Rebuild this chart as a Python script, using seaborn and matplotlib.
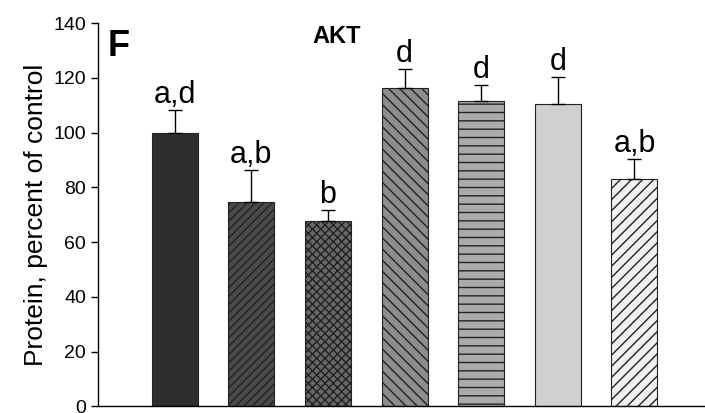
import pandas as pd
import seaborn as sns
import matplotlib.pyplot as plt

# values (percent of control)
groups = ["G1", "G2", "G3", "G4", "G5", "G6", "G7"]
means = [100.0, 74.7, 67.8, 116.3, 111.6, 110.3, 83.0]
errors = [8.2, 11.8, 4.1, 7.0, 5.8, 10.0, 7.3]
letters = ["a,d", "a,b", "b", "d", "d", "d", "a,b"]
colors = ["#2e2e2e", "#4a4a4a", "#676767", "#8d8d8d", "#ababab", "#d0d0d0", "#f0f0f0"]
hatches = ["", "////", "xxxx", "\\\\\\", "--", "", "///"]

df = pd.DataFrame({"group": groups, "value": means})

sns.set_style("ticks")
plt.rcParams["font.family"] = ["Liberation Sans", "DejaVu Sans"]
plt.rcParams["hatch.linewidth"] = 1.0
for key in ["text.color", "axes.labelcolor", "xtick.color", "ytick.color"]:
    plt.rcParams[key] = "black"

fig = plt.figure(figsize=(7.05, 4.13), dpi=100)
ax = fig.add_axes([0.139, 0.016, 0.861, 0.928])

sns.barplot(data=df, x="group", y="value", hue="group", palette=colors,
            width=0.6, errorbar=None, legend=False, ax=ax,
            edgecolor="#222222", linewidth=0.8)

for patch, h in zip(ax.patches, hatches):
    patch.set_hatch(h)

x = list(range(len(groups)))
ax.errorbar(x, means, yerr=[[0] * len(errors), errors], fmt="none",
            ecolor="black", elinewidth=1.0, capsize=5, capthick=1.0)

for xi, m, e, lab in zip(x, means, errors, letters):
    ax.text(xi, m + e, lab, ha="center", va="bottom", fontsize=22)

ax.set_xlim(-1.0, 6.92)
ax.set_ylim(0, 140)
ax.set_yticks(range(0, 141, 20))
ax.tick_params(axis="y", labelsize=14, length=5, width=1, direction="out")
ax.tick_params(axis="x", length=0, labelbottom=False)
ax.set_xlabel("")
ax.set_ylabel("Protein, percent of control", fontsize=19, labelpad=4)
ax.text(-0.88, 131.5, "F", fontsize=26, fontweight="bold", va="center")
ax.text(2.11, 135, "AKT", fontsize=17, fontweight="bold", ha="center", va="center")
sns.despine(ax=ax)
for s in ax.spines.values():
    s.set_color("black")
    s.set_linewidth(1.0)

fig.savefig("out.png", dpi=100)
